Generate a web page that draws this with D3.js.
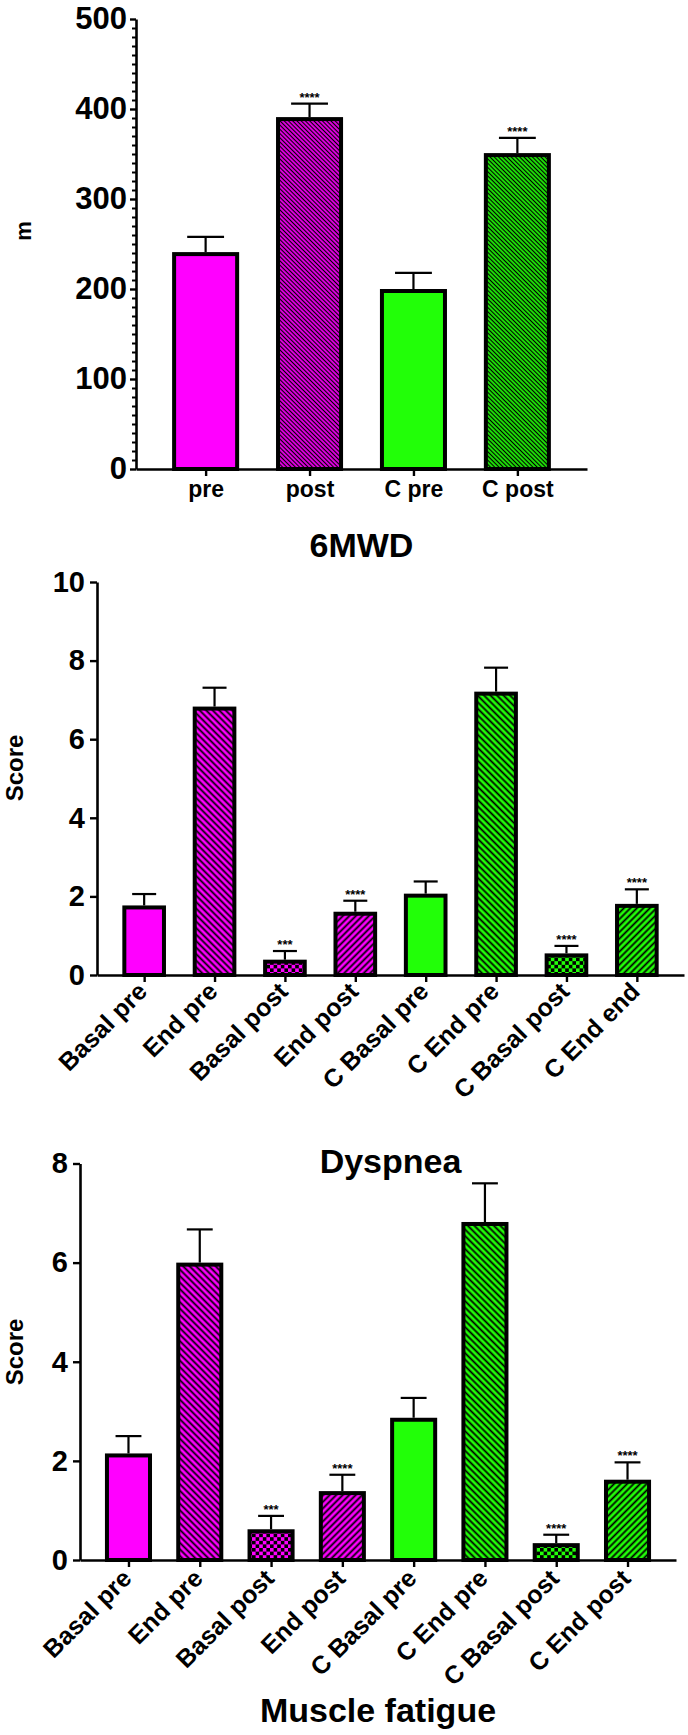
<!DOCTYPE html>
<html><head><meta charset="utf-8">
<script src="https://cdn.jsdelivr.net/npm/d3@7"></script>
<style>
body{margin:0;background:#fff}
svg{display:block}
text{font-family:"Liberation Sans",Arial,Helvetica,sans-serif;font-weight:bold;fill:#000}
</style>
</head><body>
<svg id="c" width="688" height="1735"></svg>
<script>
// ---------- data ----------
const walkCategories = ["pre", "post", "C pre", "C post"];
const walkValues = [241, 391, 200, 351];
const walkErrorTops = [258, 406, 218, 368];
const walkStars = ["", "****", "", "****"];
const walkTicks = [0, 100, 200, 300, 400, 500];
const walkFills = ["magenta", "magentaDown", "green", "greenDown"];

const dyspneaCategories = ["Basal pre", "End pre", "Basal post", "End post", "C Basal pre", "C End pre", "C Basal post", "C End end"];
const dyspneaValues = [1.77, 6.83, 0.39, 1.61, 2.07, 7.21, 0.55, 1.81];
const dyspneaErrorTops = [2.06, 7.31, 0.61, 1.89, 2.38, 7.82, 0.74, 2.18];
const dyspneaStars = ["", "", "***", "****", "", "", "****", "****"];
const dyspneaTicks = [0, 2, 4, 6, 8, 10];

const fatigueCategories = ["Basal pre", "End pre", "Basal post", "End post", "C Basal pre", "C End pre", "C Basal post", "C End post"];
const fatigueValues = [2.15, 6.0, 0.62, 1.39, 2.87, 6.82, 0.34, 1.62];
const fatigueErrorTops = [2.50, 6.67, 0.89, 1.72, 3.27, 7.60, 0.51, 1.97];
const fatigueStars = ["", "", "***", "****", "", "", "****", "****"];
const fatigueTicks = [0, 2, 4, 6, 8];

const scoreFills = ["magenta", "magentaDown", "magentaChecker", "magentaUp", "green", "greenDown", "greenChecker", "greenUp"];

const titles = ["6MWD", "Dyspnea", "Muscle fatigue"];

// ---------- drawing ----------
const MAGENTA = "#ff00ff", GREEN = "#22ff08";
const svg = d3.select("#c");
const defs = svg.append("defs");

function diag(id, color, spacing, lw, angle) {
  const p = defs.append("pattern").attr("id", id)
    .attr("patternUnits", "userSpaceOnUse")
    .attr("width", spacing).attr("height", spacing)
    .attr("patternTransform", `rotate(${angle})`);
  p.append("rect").attr("width", spacing).attr("height", spacing).attr("fill", color);
  p.append("line").attr("x1", spacing / 2).attr("x2", spacing / 2)
    .attr("y1", -1).attr("y2", spacing + 1)
    .attr("stroke", "#000").attr("stroke-width", lw);
}
function checker(id, color, c) {
  const p = defs.append("pattern").attr("id", id)
    .attr("patternUnits", "userSpaceOnUse")
    .attr("width", 2 * c).attr("height", 2 * c);
  p.append("rect").attr("width", 2 * c).attr("height", 2 * c).attr("fill", color);
  p.append("rect").attr("width", c).attr("height", c).attr("fill", "#000");
  p.append("rect").attr("x", c).attr("y", c).attr("width", c).attr("height", c).attr("fill", "#000");
}
[["a", 3.0, 1.3], ["b", 4.6, 1.8]].forEach(([s, sp, lw]) => {
  diag("magentaDown" + s, MAGENTA, sp, lw, -45);
  diag("greenDown" + s, GREEN, sp, lw, -45);
  diag("magentaUp" + s, MAGENTA, sp, lw, 45);
  diag("greenUp" + s, GREEN, sp, lw, 45);
  checker("magentaChecker" + s, MAGENTA, 3.6);
  checker("greenChecker" + s, GREEN, 3.6);
});
function fillFor(key, suffix) {
  if (key === "magenta") return MAGENTA;
  if (key === "green") return GREEN;
  return `url(#${key}${suffix})`;
}

function drawChart(cfg) {
  const g = svg.append("g");
  const x = d3.scalePoint().domain(cfg.categories).range([cfg.x0, cfg.x1]).padding(cfg.padding);
  const y = d3.scaleLinear().domain([0, d3.max(cfg.ticks)]).range([cfg.y0, cfg.yTop]);
  const bw = x.step() * cfg.barFrac;
  const sw = 4;

  g.selectAll("rect.bar").data(cfg.values).join("rect").attr("class", "bar")
    .attr("x", (d, i) => x(cfg.categories[i]) - bw / 2 + sw / 2)
    .attr("width", bw - sw)
    .attr("y", d => y(d) + sw / 2)
    .attr("height", d => cfg.y0 - y(d) - sw / 2)
    .attr("fill", (d, i) => fillFor(cfg.fills[i], cfg.suffix))
    .attr("stroke", "#000").attr("stroke-width", sw);

  const cap = bw * 0.55;
  cfg.errorTops.forEach((e, i) => {
    const cx = x(cfg.categories[i]);
    g.append("line").attr("x1", cx).attr("x2", cx).attr("y1", y(cfg.values[i])).attr("y2", y(e))
      .attr("stroke", "#000").attr("stroke-width", 2.2);
    g.append("line").attr("x1", cx - cap / 2).attr("x2", cx + cap / 2).attr("y1", y(e)).attr("y2", y(e))
      .attr("stroke", "#000").attr("stroke-width", 2.2);
    if (cfg.stars[i]) {
      g.append("text").attr("x", cx).attr("y", y(e) - 2).attr("text-anchor", "middle")
        .style("font-size", "13px").text(cfg.stars[i]);
    }
  });

  if (cfg.minorStep) {
    const minor = d3.range(0, d3.max(cfg.ticks), cfg.minorStep).filter(v => !cfg.ticks.includes(v));
    const mg = g.append("g").attr("transform", `translate(${cfg.x0},0)`)
      .call(d3.axisLeft(y).tickValues(minor).tickSize(4).tickSizeOuter(0).tickFormat(""));
    mg.select(".domain").remove();
    mg.selectAll("line").attr("stroke-width", 2);
  }
  const ya = g.append("g").attr("transform", `translate(${cfg.x0},0)`)
    .call(d3.axisLeft(y).tickValues(cfg.ticks).tickSize(cfg.yTickSize).tickSizeOuter(0).tickPadding(cfg.yPad).tickFormat(d3.format("d")));
  ya.select(".domain").attr("stroke-width", 2.6);
  ya.selectAll(".tick line").attr("stroke-width", 2.4);
  ya.selectAll("text").style("font-size", cfg.yFont + "px").attr("font-family", null);

  const xa = g.append("g").attr("transform", `translate(0,${cfg.y0})`)
    .call(d3.axisBottom(x).tickSize(7).tickSizeOuter(0).tickPadding(5));
  xa.select(".domain").attr("stroke-width", 2.6);
  xa.selectAll(".tick line").attr("stroke-width", 2.4);
  const xt = xa.selectAll("text").style("font-size", cfg.xFont + "px").attr("font-family", null);
  if (cfg.rotate) {
    xt.attr("text-anchor", "end").attr("y", 0).attr("dy", null)
      .attr("transform", `translate(4,${cfg.labelDy}) rotate(-45)`);
  }

  g.append("text").attr("text-anchor", "middle")
    .attr("transform", `translate(${cfg.ylabX},${cfg.ylabY}) rotate(-90)`)
    .style("font-size", cfg.ylabFont + "px").text(cfg.ylabel);

  g.append("text").attr("text-anchor", "middle")
    .attr("x", (cfg.x0 + cfg.x1) / 2).attr("y", cfg.titleY)
    .style("font-size", "34px").text(cfg.title);
}

drawChart({
  categories: walkCategories, values: walkValues, errorTops: walkErrorTops, stars: walkStars,
  ticks: walkTicks, fills: walkFills, suffix: "a", minorStep: 10,
  x0: 136, x1: 587, padding: 0.67, y0: 469, yTop: 19, barFrac: 0.645,
  yTickSize: 6, yPad: 3, yFont: 31, xFont: 23, rotate: false,
  ylabel: "m", ylabX: 31, ylabY: 231, ylabFont: 22,
  title: titles[0], titleY: 557
});
drawChart({
  categories: dyspneaCategories, values: dyspneaValues, errorTops: dyspneaErrorTops, stars: dyspneaStars,
  ticks: dyspneaTicks, fills: scoreFills, suffix: "b", minorStep: 0,
  x0: 97, x1: 684, padding: 0.67, y0: 975, yTop: 582, barFrac: 0.62,
  yTickSize: 7, yPad: 5, yFont: 29, xFont: 25, rotate: true, labelDy: 18,
  ylabel: "Score", ylabX: 23, ylabY: 768, ylabFont: 24,
  title: titles[1], titleY: 1173
});
drawChart({
  categories: fatigueCategories, values: fatigueValues, errorTops: fatigueErrorTops, stars: fatigueStars,
  ticks: fatigueTicks, fills: scoreFills, suffix: "b", minorStep: 0,
  x0: 80, x1: 676, padding: 0.68, y0: 1560, yTop: 1163.5, barFrac: 0.66,
  yTickSize: 7, yPad: 5, yFont: 29, xFont: 25, rotate: true, labelDy: 20,
  ylabel: "Score", ylabX: 23, ylabY: 1352, ylabFont: 24,
  title: titles[2], titleY: 1722
});
</script>
</body></html>
